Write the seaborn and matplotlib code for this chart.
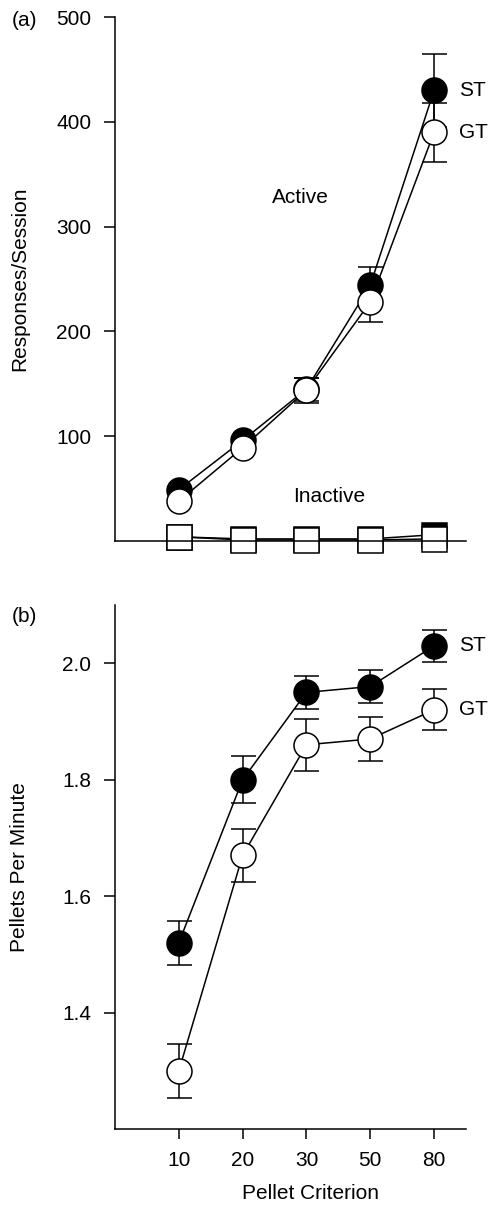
import matplotlib
matplotlib.use("Agg")
import matplotlib.pyplot as plt
import seaborn as sns
import numpy as np
import pandas as pd

# ---- data ----
criteria = ["10", "20", "30", "50", "80"]

active_st = [49, 96, 145, 244, 430]
active_st_sem = [3, 3, 11, 17, 35]
active_gt = [38, 89, 144, 228, 390]
active_gt_sem = [3, 3, 12, 19, 28]

inactive_st = [4, 2, 2, 2, 6]
inactive_gt = [4, 1, 1, 1, 2]

ppm_st = [1.52, 1.80, 1.95, 1.96, 2.03]
ppm_st_sem = [0.038, 0.040, 0.029, 0.029, 0.028]
ppm_gt = [1.30, 1.67, 1.86, 1.87, 1.92]
ppm_gt_sem = [0.046, 0.045, 0.045, 0.038, 0.035]

top_yticks = [100, 200, 300, 400, 500]
bottom_yticks = [1.4, 1.6, 1.8, 2.0]

# ---- style ----
sns.set_style("ticks")
plt.rcParams["font.family"] = ["Liberation Sans", "DejaVu Sans"]
plt.rcParams["font.size"] = 15
plt.rcParams["axes.linewidth"] = 1.1
plt.rcParams["xtick.major.width"] = 1.1
plt.rcParams["ytick.major.width"] = 1.1
plt.rcParams["xtick.major.size"] = 7
plt.rcParams["ytick.major.size"] = 8
plt.rcParams["xtick.major.pad"] = 9
plt.rcParams["ytick.major.pad"] = 9
plt.rcParams["xtick.color"] = "black"
plt.rcParams["ytick.color"] = "black"
plt.rcParams["xtick.labelcolor"] = "black"
plt.rcParams["ytick.labelcolor"] = "black"
plt.rcParams["axes.edgecolor"] = "black"
plt.rcParams["axes.labelcolor"] = "black"
plt.rcParams["text.color"] = "black"

FS = 15
MS = 18
LW = 1.1

fig = plt.figure(figsize=(4.9, 12.06), dpi=100)
ax1 = fig.add_axes([0.2347, 0.5514, 0.7163, 0.4345])
ax2 = fig.add_axes([0.2347, 0.0638, 0.7163, 0.4345])

pos = np.arange(len(criteria))


def series(ax, vals, sems, marker, face, z):
    df = pd.DataFrame({"x": pos, "y": vals})
    if sems is not None:
        ax.errorbar(pos, vals, yerr=sems, fmt="none", ecolor="black",
                    elinewidth=LW, capsize=9, capthick=LW, zorder=z - 0.5,
                    clip_on=False)
    sns.lineplot(data=df, x="x", y="y", ax=ax, color="black", lw=LW,
                 marker=marker, markersize=MS, markerfacecolor=face,
                 markeredgecolor="black", markeredgewidth=LW,
                 zorder=z, clip_on=False, legend=False)


# ---- top panel ----
series(ax1, active_st, active_st_sem, "o", "black", 3)
series(ax1, active_gt, active_gt_sem, "o", "white", 4)
series(ax1, inactive_st, None, "s", "black", 2.0)
series(ax1, inactive_gt, None, "s", "white", 2.1)

ax1.set_xlim(-1, 4.5)
ax1.set_ylim(0, 500)
ax1.set_yticks(top_yticks)
ax1.set_xticks(pos)
ax1.set_xticklabels([])
ax1.tick_params(axis="both", labelsize=FS)
ax1.set_xlabel("")
ax1.set_ylabel("Responses/Session", fontsize=FS)
ax1.yaxis.set_label_coords(-0.245, 0.5)
sns.despine(ax=ax1)

ax1.text(1.9, 328, "Active", fontsize=FS, ha="center", va="center")
ax1.text(2.36, 42, "Inactive", fontsize=FS, ha="center", va="center")
ax1.annotate("ST", xy=(4, active_st[-1]), xytext=(18, 0),
             textcoords="offset points", fontsize=FS, va="center")
ax1.annotate("GT", xy=(4, active_gt[-1]), xytext=(18, 0),
             textcoords="offset points", fontsize=FS, va="center")

# ---- bottom panel ----
series(ax2, ppm_st, ppm_st_sem, "o", "black", 3)
series(ax2, ppm_gt, ppm_gt_sem, "o", "white", 4)

ax2.set_xlim(-1, 4.5)
ax2.set_ylim(1.2, 2.1)
ax2.set_yticks(bottom_yticks)
ax2.set_yticklabels([f"{v:.1f}" for v in bottom_yticks])
ax2.set_xticks(pos)
ax2.set_xticklabels(criteria)
ax2.tick_params(axis="both", labelsize=FS)
ax2.set_xlabel("Pellet Criterion", fontsize=FS)
ax2.set_ylabel("Pellets Per Minute", fontsize=FS)
ax2.yaxis.set_label_coords(-0.245, 0.5)
ax2.xaxis.set_label_coords(0.556, -0.105)
sns.despine(ax=ax2)

ax2.annotate("ST", xy=(4, ppm_st[-1]), xytext=(18, 0),
             textcoords="offset points", fontsize=FS, va="center")
ax2.annotate("GT", xy=(4, ppm_gt[-1]), xytext=(18, 0),
             textcoords="offset points", fontsize=FS, va="center")

fig.text(12 / 490, 1 - 21 / 1206, "(a)", fontsize=FS, va="center", ha="left")
fig.text(12 / 490, 1 - 617 / 1206, "(b)", fontsize=FS, va="center", ha="left")

fig.savefig("out.png", dpi=100, facecolor="white")
